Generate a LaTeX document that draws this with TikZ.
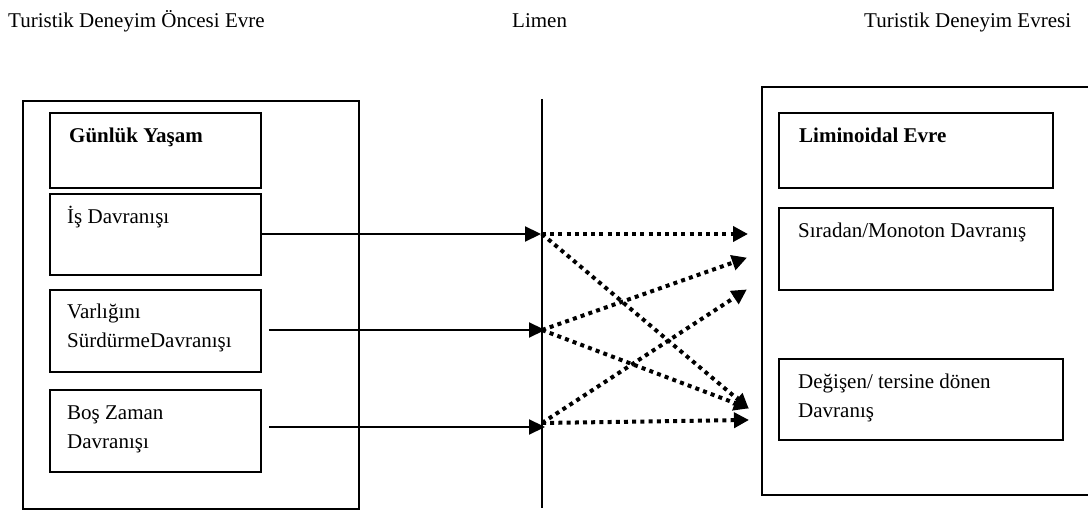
\documentclass[tikz,border=0pt]{standalone}
\usepackage{fontspec}
\setmainfont{Liberation Serif}
\usetikzlibrary{arrows.meta}
\begin{document}
\begin{tikzpicture}[x=1pt,y=-1pt,
  every node/.style={font=\fontsize{21}{29}\selectfont},
  frame/.style={draw, line width=2pt, rectangle, inner sep=0pt, anchor=north west},
  txt/.style={anchor=base west, inner sep=0pt},
  solidarrow/.style={line width=2.2pt, -{Triangle[length=16pt,width=15pt]}},
  dotarrow/.style={line width=4pt, dash pattern=on 4pt off 4.2pt, -{Triangle[length=15pt,width=15pt]}, shorten >=-1pt}
]
\useasboundingbox (0,0) rectangle (1088,510);

% titles
\node[txt] (t1) at (8,28) {Turistik Deneyim Öncesi Evre};
\node[txt] (t2) at (512,28) {Limen};
\node[txt] (t3) at (864,28) {Turistik Deneyim Evresi};

% left side
\node[frame, minimum width=336pt, minimum height=408pt] (outL) at (22,100) {};
\node[frame, minimum width=211pt, minimum height=75pt] (gy) at (49,112) {};
\node[frame, minimum width=211pt, minimum height=81pt] (is) at (49,193) {};
\node[frame, minimum width=211pt, minimum height=82pt] (var) at (49,289) {};
\node[frame, minimum width=211pt, minimum height=82pt] (bos) at (49,389) {};
\node[txt] (tgy) at (69,143) {\bfseries Günlük Yaşam};
\node[txt] (tis) at (67,224) {İş Davranışı};
\node[txt] (tvar) at (67,319) {\begin{tabular}[t]{@{}l@{}}Varlığını\\SürdürmeDavranışı\end{tabular}};
\node[txt] (tbos) at (67,420) {\begin{tabular}[t]{@{}l@{}}Boş Zaman\\Davranışı\end{tabular}};

% limen line
\coordinate (ltop) at (542,99);
\coordinate (lbot) at (542,508);
\draw[line width=2pt] (ltop) -- (lbot);

% right side
\node[frame, minimum width=330pt, minimum height=408pt] (outR) at (761,86) {};
\node[frame, minimum width=274pt, minimum height=75pt] (lim) at (778,112) {};
\node[frame, minimum width=274pt, minimum height=82pt] (sir) at (778,207) {};
\node[frame, minimum width=284pt, minimum height=81pt] (deg) at (778,358) {};
\node[txt] (tlim) at (799,143) {\bfseries Liminoidal Evre};
\node[txt] (tsir) at (798,238) {Sıradan/Monoton Davranış};
\node[txt] (tdeg) at (798,389) {\begin{tabular}[t]{@{}l@{}}Değişen/ tersine dönen\\Davranış\end{tabular}};

% solid arrows into the limen
\coordinate (a1) at (541,234);
\coordinate (a2) at (545,330);
\coordinate (a3) at (545,427);
\draw[solidarrow] (is.east |- a1) -- (a1);
\draw[solidarrow] ([xshift=7pt]var.east |- a2) -- (a2);
\draw[solidarrow] ([xshift=7pt]bos.east |- a3) -- (a3);

% dotted arrows
\coordinate (s1) at (542,234);
\coordinate (s2) at (542,330);
\coordinate (s3) at (542,423);
\coordinate (e1) at (747,234);
\coordinate (e2) at (746,258);
\coordinate (e3) at (746,290);
\coordinate (e4) at (748,408);
\coordinate (e5) at (748,420);
\draw[dotarrow] (s1) -- (e1);
\draw[dotarrow] (s1) -- (e4);
\draw[dotarrow] (s2) -- (e2);
\draw[dotarrow] (s2) -- (e4);
\draw[dotarrow] (s3) -- (e3);
\draw[dotarrow] (s3) -- (e5);
\end{tikzpicture}
\end{document}
